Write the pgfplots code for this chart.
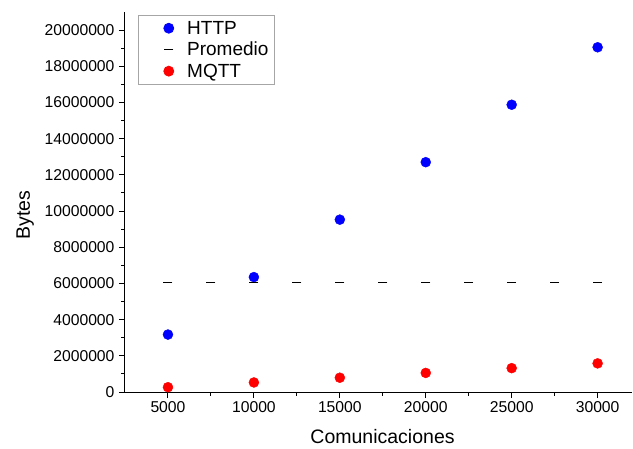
\documentclass[border=0pt]{standalone}
\usepackage{fontspec}
\setmainfont{Liberation Sans}
\usepackage{pgfplots}
\pgfplotsset{compat=1.18}
\begin{document}
\begin{tikzpicture}
\begin{axis}[
  at={(0,0)}, anchor=south west,
  scale only axis,
  width=507pt, height=380pt,
  xmin=2500, xmax=32000,
  ymin=0, ymax=21000000,
  axis x line=bottom, axis y line=left,
  axis line style={-, line width=1pt, black},
  xtick={5000,10000,15000,20000,25000,30000},
  ytick={0,2000000,4000000,6000000,8000000,10000000,12000000,14000000,16000000,18000000,20000000},
  minor x tick num=1, minor y tick num=1,
  tick align=outside,
  major tick length=6pt, minor tick length=3.5pt,
  tick style={line width=1pt, black},
  scaled ticks=false,
  /pgf/number format/fixed,
  /pgf/number format/precision=0,
  /pgf/number format/1000 sep={},
  /pgf/number format/assume math mode=true,
  ticklabel style={font=\fontsize{15.7}{18}\selectfont},
  yticklabel style={xshift=-1pt},
  xlabel={Comunicaciones},
  ylabel={Bytes},
  label style={font=\fontsize{19.5}{22}\selectfont},
  xlabel style={at={(axis description cs:0.508,-0.118)}, anchor=center},
  ylabel style={at={(axis description cs:-0.197,0.466)}, anchor=center, rotate=0},
  legend style={at={(axis description cs:0.0256,0.992)}, anchor=north west,
    draw=gray!70, line width=0.8pt, fill=white,
    font=\fontsize{19}{21}\selectfont, row sep=2.5pt,
    inner xsep=4pt, inner ysep=3.5pt},
  legend image code/.code={\path (0pt,0pt) (42pt,0pt); \draw[mark repeat=2,mark phase=2,#1] plot coordinates {(0pt,0pt)(26pt,0pt)(42pt,0pt)};},
  legend cell align=left,
  clip=false,
]
\addplot[only marks, mark=*, mark size=5pt, color=blue] coordinates {
  (5000,3175000) (10000,6350000) (15000,9525000) (20000,12700000) (25000,15875000) (30000,19050000)
};
\addlegendentry{HTTP}
\addplot[only marks, mark=-, mark size=4.5pt, mark options={line width=0.7pt}, color=black] coordinates {
  (5000,6060000) (7500,6060000) (10000,6060000) (12500,6060000) (15000,6060000) (17500,6060000)
  (20000,6060000) (22500,6060000) (25000,6060000) (27500,6060000) (30000,6060000)
};
\addlegendentry{Promedio}
\addplot[only marks, mark=*, mark size=5pt, color=red] coordinates {
  (5000,264000) (10000,527000) (15000,790000) (20000,1055000) (25000,1318000) (30000,1582000)
};
\addlegendentry{MQTT}
\end{axis}
\path[use as bounding box] (-125pt,-56pt) rectangle (508pt,392pt);
\end{tikzpicture}
\end{document}
